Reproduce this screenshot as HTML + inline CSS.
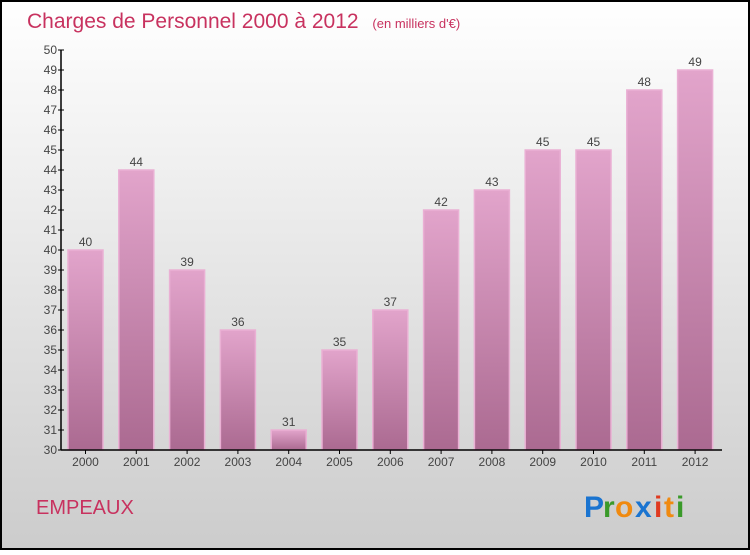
<!DOCTYPE html>
<html><head><meta charset="utf-8"><style>
body{margin:0;width:750px;height:550px;overflow:hidden;font-family:"Liberation Sans",sans-serif}
</style></head><body>
<svg width="750" height="550" xmlns="http://www.w3.org/2000/svg">
<defs>
<linearGradient id="bg" x1="0" y1="0" x2="0" y2="1"><stop offset="0" stop-color="#ffffff"/><stop offset="1" stop-color="#cccccc"/></linearGradient>
<linearGradient id="bar" x1="0" y1="0" x2="0" y2="1"><stop offset="0" stop-color="#e2a4cb"/><stop offset="1" stop-color="#ab6a91"/></linearGradient>
</defs>
<rect x="1" y="1" width="748" height="548" fill="url(#bg)" stroke="#000" stroke-width="2"/>
<text x="27" y="28" font-size="21" fill="#c8325f">Charges de Personnel 2000 à 2012 <tspan font-size="13" dx="8">(en milliers d'€)</tspan></text>
<g id="plot"></g>
<text x="36" y="514" font-size="20" fill="#c8325f">EMPEAUX</text>
<g font-size="30" font-weight="bold">
<text x="584" y="517" fill="#1a74d0">P</text><text x="603" y="517" fill="#3a9a2a">r</text><text x="615" y="517" fill="#f08a10">o</text><text x="635" y="517" fill="#1a74d0">x</text><text x="654" y="517" fill="#e03a20">i</text><text x="664" y="517" fill="#f08a10">t</text><text x="676" y="517" fill="#3a9a2a">i</text>
</g>
</svg>
<script>
const categories=["2000","2001","2002","2003","2004","2005","2006","2007","2008","2009","2010","2011","2012"];
const values=[40,44,39,36,31,35,37,42,43,45,45,48,49];
const yTicks=[30,31,32,33,34,35,36,37,38,39,40,41,42,43,44,45,46,47,48,49,50];
const NS="http://www.w3.org/2000/svg";
const g=document.getElementById("plot");
const y=v=>450-(v-30)*20;
const x=i=>85.5+i*50.8;
function mk(t,a,txt){const e=document.createElementNS(NS,t);for(const k in a)e.setAttribute(k,a[k]);if(txt!==undefined)e.textContent=txt;g.appendChild(e);return e;}
values.forEach((v,i)=>{
 const r=mk("rect",{x:x(i)-17.5,y:y(v),width:35,height:450-y(v),fill:"url(#bar)",stroke:"#eab0d4","stroke-width":1.5});
 
 
 const t=mk("text",{x:x(i),y:y(v)-4,"font-size":12,"text-anchor":"middle",fill:"#444"},String(v));
 
 
 const c=mk("text",{x:x(i),y:466,"font-size":12,"text-anchor":"middle",fill:"#444"},categories[i]);
 
 
 const tk=mk("line",{x1:x(i),y1:450,x2:x(i),y2:454,stroke:"#000"});
 
 
});
yTicks.forEach(v=>{
 const l=mk("line",{x1:58,y1:y(v),x2:64,y2:y(v),stroke:"#000"});
 
 
 const t=mk("text",{x:57,y:y(v)+4,"font-size":12,"text-anchor":"end",fill:"#444"},String(v));
 
 
});
const ya=mk("line",{x1:61,y1:50,x2:61,y2:450,stroke:"#000","stroke-width":1.5});


const xa=mk("line",{x1:61,y1:450,x2:722,y2:450,stroke:"#000","stroke-width":1.5});


</script>
</body></html>
